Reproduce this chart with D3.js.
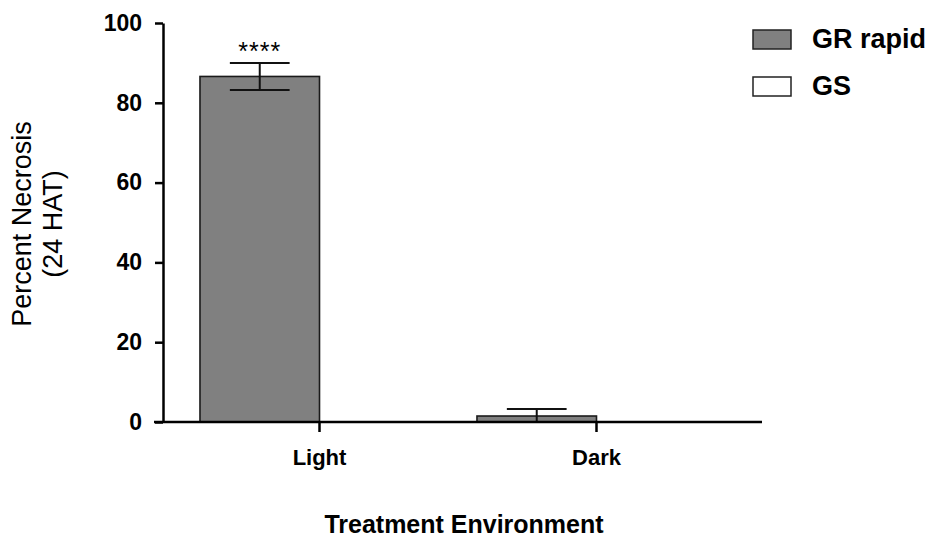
<!DOCTYPE html>
<html lang="en">
<head>
    <meta charset="UTF-8">
    <title>Percent Necrosis</title>
    <style>
        body { margin: 0; background: #fff; }
        svg { font-family: "Liberation Sans", Arial, sans-serif; }
        .axis path, .axis line { stroke: #000; stroke-width: 2.5px; }
        .axis text { font-size: 22px; font-weight: bold; fill: #000; }
        .axis.y text { font-size: 23px; }
        .bar { stroke: #1a1a1a; stroke-width: 1.6px; }
        .err { stroke: #111; stroke-width: 2px; fill: none; }
    </style>
    <script src="https://cdn.jsdelivr.net/npm/d3@7"></script>
</head>
<body>
    <svg width="932" height="540"></svg>
    <script>
        // data
        var groups = ["Light", "Dark"];
        var series = ["GR rapid", "GS"];
        var colors = ["#808080", "#ffffff"];
        var means = { "GR rapid": [86.6, 1.5], "GS": [0, 0] };
        var sems = { "GR rapid": [3.4, 1.75], "GS": [0, 0] };
        var stars = ["****", ""];
        var yTicks = [0, 20, 40, 60, 80, 100];

        var svg = d3.select("svg");

        var y = d3.scaleLinear().domain([0, 100]).range([422, 23]);

        var x0 = d3.scaleBand()
            .domain(groups)
            .range([154, 762])
            .paddingInner(0.137)
            .paddingOuter(0.166);

        var x1 = d3.scaleBand()
            .domain(series)
            .range([0, x0.bandwidth()]);

        // bars
        var rows = [];
        groups.forEach(function(g, i) {
            series.forEach(function(s, j) {
                rows.push({ group: g, series: s, idx: j, mean: means[s][i], sem: sems[s][i], star: j === 0 ? stars[i] : "" });
            });
        });

        var bar = svg.append("g").selectAll("g")
            .data(rows)
            .enter().append("g")
            .attr("transform", function(d) { return "translate(" + (x0(d.group) + x1(d.series)) + ",0)"; });

        bar.append("rect")
            .attr("class", "bar")
            .attr("x", 0)
            .attr("width", x1.bandwidth())
            .attr("y", function(d) { return y(d.mean); })
            .attr("height", function(d) { return y(0) - y(d.mean); })
            .style("fill", function(d) { return colors[d.idx]; });

        // error bars (SEM)
        var cap = x1.bandwidth() / 4;
        var errs = bar.filter(function(d) { return d.sem > 0; });
        errs.append("line").attr("class", "err")
            .attr("x1", x1.bandwidth() / 2).attr("x2", x1.bandwidth() / 2)
            .attr("y1", function(d) { return y(d.mean + d.sem); })
            .attr("y2", function(d) { return y(Math.max(0, d.mean - d.sem)); });
        errs.append("line").attr("class", "err")
            .attr("x1", x1.bandwidth() / 2 - cap).attr("x2", x1.bandwidth() / 2 + cap)
            .attr("y1", function(d) { return y(d.mean + d.sem); })
            .attr("y2", function(d) { return y(d.mean + d.sem); });
        errs.filter(function(d) { return d.mean - d.sem > 0; })
            .append("line").attr("class", "err")
            .attr("x1", x1.bandwidth() / 2 - cap).attr("x2", x1.bandwidth() / 2 + cap)
            .attr("y1", function(d) { return y(d.mean - d.sem); })
            .attr("y2", function(d) { return y(d.mean - d.sem); });

        bar.filter(function(d) { return d.star; })
            .append("text")
            .attr("x", x1.bandwidth() / 2)
            .attr("y", function(d) { return y(d.mean + d.sem) - 3; })
            .attr("text-anchor", "middle")
            .style("font-size", "25px")
            .style("letter-spacing", "1px")
            .text(function(d) { return d.star; });

        // axes
        svg.append("g")
            .attr("class", "axis y")
            .attr("transform", "translate(163,0)")
            .call(d3.axisLeft(y).tickValues(yTicks).tickSize(8).tickSizeOuter(0).tickPadding(13));

        svg.append("g")
            .attr("class", "axis x")
            .attr("transform", "translate(0," + y(0) + ")")
            .call(d3.axisBottom(x0).tickSize(10).tickSizeOuter(0).tickPadding(17)
                .offset(0));

        // axis titles
        svg.append("text")
            .attr("x", 464)
            .attr("y", 533)
            .attr("text-anchor", "middle")
            .style("font-size", "25px")
            .style("font-weight", "bold")
            .text("Treatment Environment");

        var yt = svg.append("text")
            .attr("transform", "translate(0,224) rotate(-90)")
            .attr("text-anchor", "middle")
            .style("font-size", "27px");
        yt.append("tspan").attr("x", 0).attr("y", 31).text("Percent Necrosis");
        yt.append("tspan").attr("x", 0).attr("y", 62).text("(24 HAT)");

        // legend
        var legend = svg.append("g").selectAll("g")
            .data(series)
            .enter().append("g")
            .attr("transform", function(d, i) { return "translate(753," + (30 + i * 47) + ")"; });

        legend.append("rect")
            .attr("width", 38)
            .attr("height", 19)
            .style("fill", function(d, i) { return colors[i]; })
            .style("stroke", "#222")
            .style("stroke-width", "1.5px");

        legend.append("text")
            .attr("x", 59)
            .attr("y", 18)
            .style("font-size", "27px")
            .style("font-weight", "bold")
            .text(function(d) { return d; });
    </script>
</body>
</html>
